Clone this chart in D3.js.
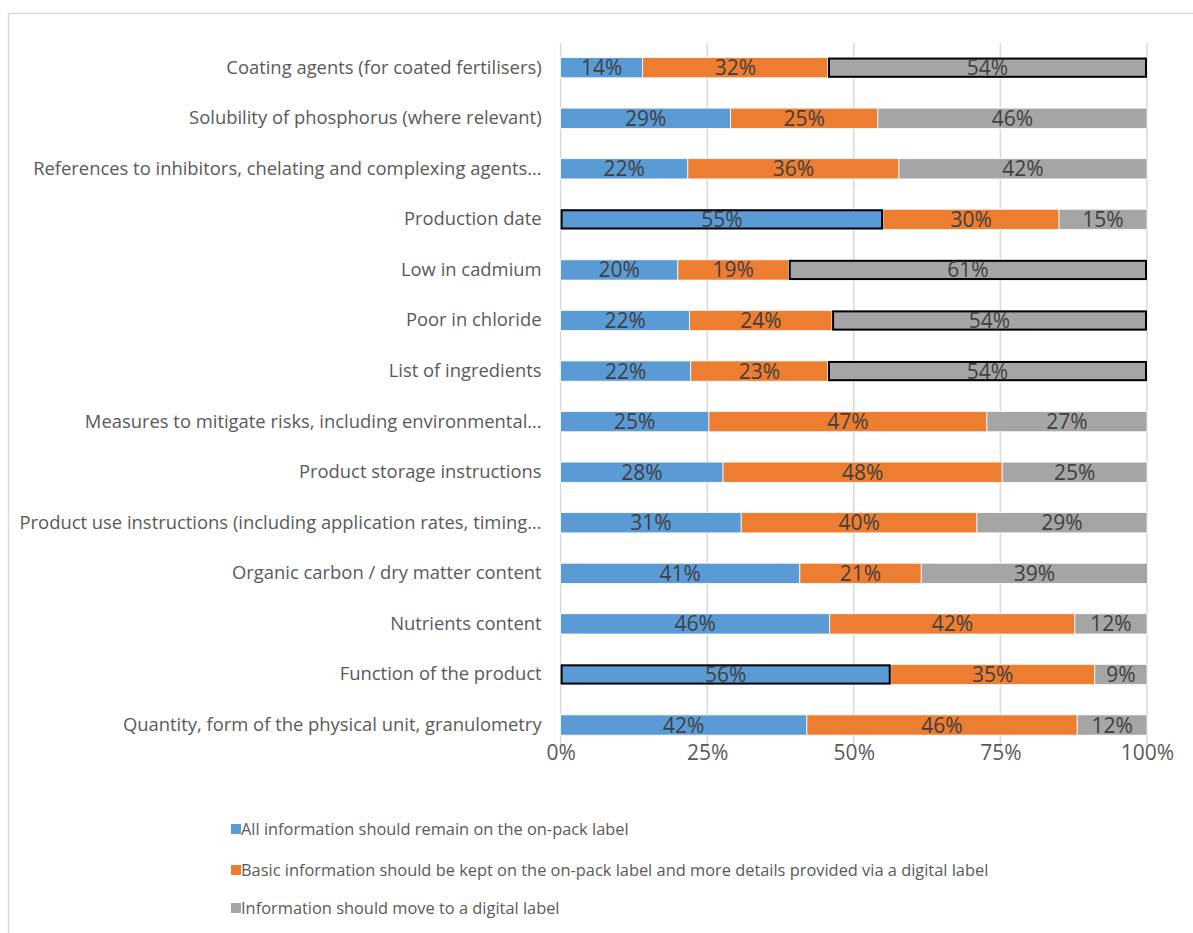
<!DOCTYPE html>
<html>
<head>
<meta charset="utf-8">
<script src="https://cdn.jsdelivr.net/npm/d3@7"></script>
<style>
  body { margin: 0; background: #fff; }
  svg { display: block; }
</style>
</head>
<body>
<svg id="chart" width="1193" height="933"></svg>
<script>
// categories, top to bottom
const categories = [
  "Coating agents (for coated fertilisers)",
  "Solubility of phosphorus (where relevant)",
  "References to inhibitors, chelating and complexing agents…",
  "Production date",
  "Low in cadmium",
  "Poor in chloride",
  "List of ingredients",
  "Measures to mitigate risks, including environmental…",
  "Product storage instructions",
  "Product use instructions (including application rates, timing…",
  "Organic carbon / dry matter content",
  "Nutrients content",
  "Function of the product",
  "Quantity, form of the physical unit, granulometry"
];

const seriesNames = [
  "All information should remain on the on-pack label",
  "Basic information should be kept on the on-pack label and more details provided via a digital label",
  "Information should move to a digital label"
];

// shares in %
const onPack  = [14.0, 29.0, 21.7, 55.0, 20.0, 22.0, 22.2, 25.3, 27.7, 30.8, 40.8, 45.9, 56.3, 42.0];
const basic   = [31.6, 25.1, 36.0, 30.0, 18.9, 24.3, 23.4, 47.4, 47.6, 40.2, 20.7, 41.8, 34.8, 46.1];
const digital = [54.4, 45.9, 42.3, 15.0, 61.1, 53.7, 54.4, 27.3, 24.7, 29.0, 38.6, 12.3,  8.9, 11.9];

const xTicks = [0, 25, 50, 75, 100];
const colors = ["#5B9BD5", "#ED7D31", "#A5A5A5"];

const svg = d3.select("#chart");
const W = 1193, H = 933;
const font = "'Open Sans', sans-serif";

svg.append("rect").attr("width", W).attr("height", H).attr("fill", "#fff");
// outer chart frame (cut off by the picture on right and bottom)
svg.append("rect")
    .attr("x", 8.5).attr("y", 13.5)
    .attr("width", 1200).attr("height", 940)
    .attr("fill", "none")
    .attr("stroke", "#d9d9d9")
    .attr("stroke-width", 1.5);

const x = d3.scaleLinear().domain([0, 100]).range([560.6, 1147]);
const y = d3.scaleBand().domain(categories).range([42.4, 750.3])
    .paddingInner(0.6).paddingOuter(0.3);

// gridlines
svg.append("g")
    .selectAll("line")
    .data(xTicks)
    .join("line")
    .attr("x1", d => x(d)).attr("x2", d => x(d))
    .attr("y1", 43).attr("y2", 749)
    .attr("stroke", "#d9d9d9")
    .attr("stroke-width", 1.5);

// x axis labels
const xAxis = svg.append("g")
    .attr("transform", "translate(0,760)")
    .call(d3.axisBottom(x).tickValues(xTicks).tickFormat(d => d + "%").tickSize(0).tickPadding(0));
xAxis.select(".domain").remove();
xAxis.selectAll("text")
    .attr("dy", 0)
    .attr("y", 0)
    .attr("font-family", font)
    .attr("font-size", 21)
    .attr("fill", "#595959");

// category labels
const yAxis = svg.append("g")
    .attr("transform", "translate(560.6,0)")
    .call(d3.axisLeft(y).tickSize(0).tickPadding(19));
yAxis.select(".domain").remove();
yAxis.selectAll("text")
    .attr("font-family", font)
    .attr("font-size", 18.4)
    .attr("fill", "#595959");

// stack the data
const rows = categories.map((c, i) => ({cat: c, s0: onPack[i], s1: basic[i], s2: digital[i]}));
const stacked = d3.stack().keys(["s0", "s1", "s2"])(rows);

const layer = svg.append("g")
    .selectAll("g")
    .data(stacked)
    .join("g")
    .attr("fill", (d, i) => colors[i]);

layer.selectAll("rect")
    .data(d => d)
    .join("rect")
    .attr("x", d => x(d[0]))
    .attr("y", d => y(d.data.cat))
    .attr("width", d => x(d[1]) - x(d[0]))
    .attr("height", y.bandwidth())
    .attr("stroke", "#fff")
    .attr("stroke-width", 0.75);

// segments above 50% carry a black outline
const hi = [];
stacked.forEach(s => s.forEach(d => { if (d[1] - d[0] > 50) hi.push(d); }));
svg.append("g")
    .selectAll("rect")
    .data(hi)
    .join("rect")
    .attr("x", d => x(d[0]) + 1)
    .attr("y", d => y(d.data.cat) + 1)
    .attr("width", d => x(d[1]) - x(d[0]) - 2)
    .attr("height", y.bandwidth() - 2)
    .attr("fill", "none")
    .attr("stroke", "#000")
    .attr("stroke-width", 2);

// data labels
svg.append("g")
    .selectAll("g")
    .data(stacked)
    .join("g")
    .selectAll("text")
    .data(d => d)
    .join("text")
    .attr("x", d => (x(d[0]) + x(d[1])) / 2)
    .attr("y", d => y(d.data.cat) + y.bandwidth() / 2)
    .attr("dy", "0.36em")
    .attr("text-anchor", "middle")
    .attr("font-family", font)
    .attr("font-size", 21)
    .attr("fill", "#404040")
    .text(d => Math.round(d[1] - d[0]) + "%");

// legend
const legendY = [829, 870, 908];
const legend = svg.append("g")
    .selectAll("g")
    .data(seriesNames)
    .join("g")
    .attr("transform", (d, i) => `translate(231,${legendY[i]})`);
legend.append("rect")
    .attr("x", 0).attr("y", -5)
    .attr("width", 10).attr("height", 10)
    .attr("fill", (d, i) => colors[i]);
legend.append("text")
    .attr("x", 10)
    .attr("dy", "0.35em")
    .attr("font-family", font)
    .attr("font-size", 16.4)
    .attr("fill", "#595959")
    .text(d => d);
</script>
</body>
</html>
